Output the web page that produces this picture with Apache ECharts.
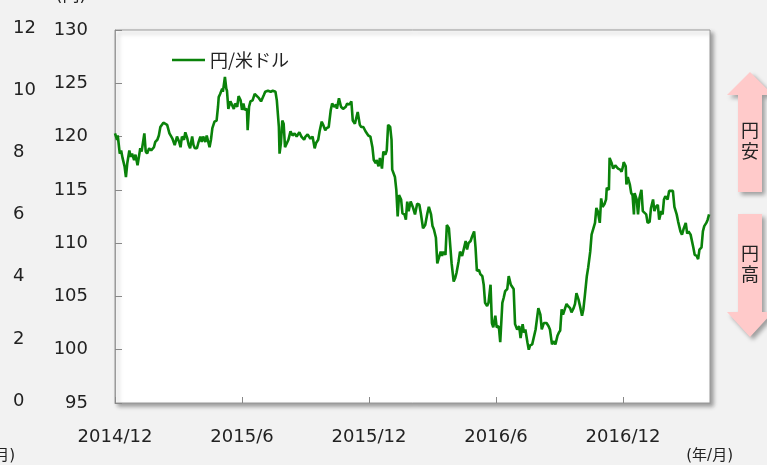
<!DOCTYPE html>
<html>
<head>
<meta charset="utf-8">
<script src="https://cdn.jsdelivr.net/npm/echarts@6/dist/echarts.min.js"></script>
<style>
html,body{margin:0;padding:0;background:#f2f2f2;}
#chart{width:767px;height:465px;}
</style>
</head>
<body>
<div id="chart"></div>
<script>
// ---- data ----
var seriesName = '円/米ドル';
var xTickLabels = ['2014/12', '2015/6', '2015/12', '2016/6', '2016/12'];
var leftTickLabels = ['0', '2', '4', '6', '8', '10', '12'];
var yUnit = '(円)';
var xUnit = '(年/月)';
var upLabel = '円\n安';
var downLabel = '円\n高';

var dates2014 = ['12-01','12-02','12-04','12-05','12-08','12-10','12-12','12-15','12-17','12-19','12-22','12-24','12-26','12-29','12-31'];
var values2014 = [120.3,120.4,119.7,120.1,118.4,118.7,118.0,117.2,116.2,117.5,118.7,118.1,118.4,117.8,118.3];

var dates2015 = ['01-03','01-05','01-07','01-09','01-13','01-15','01-17','01-20','01-23','01-27','01-29',
  '02-01','02-03','02-05','02-09','02-11','02-14','02-17','02-21','02-24','02-27',
  '03-02','03-04','03-06','03-09','03-11','03-14','03-16','03-18','03-21','03-23','03-25','03-28','03-30',
  '04-02','04-04','04-06','04-09','04-11','04-15','04-17','04-19','04-22','04-25','04-27','04-28','04-30',
  '05-03','05-04','05-07','05-09','05-10','05-12','05-15','05-17','05-20','05-22','05-25','05-27','05-30',
  '06-01','06-03','06-05','06-08','06-09','06-11','06-13','06-16','06-19','06-21','06-25','06-28',
  '07-02','07-04','07-05','07-08','07-12','07-15','07-19','07-21','07-24','07-25','07-27','07-29','07-31',
  '08-02','08-04','08-07','08-10','08-13','08-16','08-19','08-23','08-26','08-30',
  '09-01','09-04','09-08','09-11','09-14','09-16','09-19','09-21','09-24','09-26','09-29',
  '10-01','10-04','10-07','10-09','10-12','10-15','10-16','10-19','10-22','10-25','10-29','10-31',
  '11-03','11-06','11-08','11-11','11-13','11-15','11-18','11-20','11-23','11-26','11-30',
  '12-03','12-06','12-08','12-11','12-12','12-15','12-17','12-20','12-22','12-25','12-27','12-29'];
var values2015 = [117.3,117.3,118.9,118.6,120.3,118.6,118.4,118.9,118.7,119.0,119.5,
  119.7,120.1,120.9,121.3,121.4,121.1,120.3,119.8,119.2,120.0,
  119.5,119.0,120.0,119.7,120.4,119.8,119.2,118.9,120.0,119.2,118.9,118.9,119.4,
  120.0,119.5,120.0,119.5,120.1,119.0,119.7,120.8,121.4,121.5,122.8,123.7,124.0,
  124.5,124.2,125.6,124.5,124.3,122.6,123.3,123.3,122.6,123.1,122.8,123.8,123.4,
  122.5,123.1,122.5,122.6,120.6,122.8,123.3,123.4,124.0,124.0,123.6,123.3,
  123.9,124.2,124.1,124.3,124.2,124.3,124.2,123.4,120.9,118.4,119.4,121.5,121.2,
  119.0,119.0,119.7,120.5,120.1,120.3,120.0,120.4,120.0,119.7,
  120.0,120.2,119.8,120.0,118.9,119.4,119.7,120.5,121.4,121.1,120.6,
  120.8,120.9,122.5,123.1,122.8,123.0,122.6,123.6,122.8,122.6,122.8,123.1,
  123.0,123.3,121.5,121.2,121.1,122.3,121.1,120.9,120.9,120.5,120.1,
  120.0,119.0,117.8,117.5,117.8,117.2,118.0,117.0,118.6,118.3,118.7,121.1];

var dates2016 = ['01-01','01-03','01-04','01-08','01-10','01-12','01-14','01-17','01-19','01-22','01-24','01-26','01-28','01-31',
  '02-03','02-06','02-09','02-12','02-14','02-17','02-20','02-23','02-25','02-28',
  '03-01','03-03','03-06','03-08','03-10','03-13','03-15','03-17','03-20','03-22','03-25','03-27','03-29',
  '04-01','04-03','04-05','04-08','04-10','04-13','04-15','04-18','04-20','04-22','04-25','04-27','04-30',
  '05-02','05-04','05-07','05-09','05-12','05-14','05-16','05-19','05-21','05-24','05-26','05-28','05-31',
  '06-02','06-05','06-07','06-10','06-12','06-14','06-17','06-19','06-22','06-24','06-26','06-28',
  '07-01','07-04','07-06','07-09','07-11','07-13','07-16','07-18','07-20','07-23','07-25','07-28','07-30',
  '08-01','08-04','08-06','08-09','08-11','08-13','08-16','08-18','08-21','08-23','08-26','08-29','08-31',
  '09-02','09-04','09-06','09-09','09-11','09-13','09-16','09-18','09-21','09-23','09-25','09-28','09-30',
  '10-03','10-05','10-07','10-10','10-12','10-15','10-17','10-19','10-22','10-24','10-26','10-29','10-31',
  '11-02','11-05','11-07','11-08','11-11','11-12','11-15','11-17','11-20','11-22','11-24','11-27','11-29',
  '12-01','12-02','12-05','12-06','12-08','12-11','12-13','12-15','12-17','12-18','12-21','12-23','12-25','12-28','12-30'];
var values2016 = [120.9,119.7,116.9,116.2,115.0,112.5,114.5,114.1,112.8,112.7,112.2,113.9,113.0,113.9,
  113.4,112.7,113.7,113.6,112.8,111.4,111.7,112.8,113.4,112.7,
  111.6,111.3,110.5,108.1,108.0,109.2,108.8,109.2,108.9,111.7,111.4,111.3,108.1,
  106.4,106.7,107.2,108.3,109.2,108.8,108.9,110.2,109.4,110.0,110.2,110.6,111.1,
  109.6,107.4,107.5,107.1,106.9,106.1,104.4,104.1,104.4,106.1,102.5,102.1,103.2,
  102.1,102.2,100.7,104.4,104.9,105.5,105.7,106.9,106.1,106.0,105.7,102.4,
  101.9,102.2,101.1,102.4,101.6,101.9,100.7,100.0,100.4,100.5,100.5,101.9,102.9,
  103.9,103.3,101.9,102.5,102.4,102.5,102.2,101.9,100.5,100.8,100.5,101.3,101.6,
  101.8,103.8,103.3,103.9,104.3,104.1,103.9,103.5,103.9,104.3,105.3,104.7,104.1,
  103.2,103.8,105.0,106.9,107.7,109.2,110.8,110.8,111.9,113.3,113.0,111.9,114.2,
  113.4,113.7,114.1,115.2,115.0,118.0,117.5,117.0,117.3,117.2,117.0,116.9,116.7,
  117.2,117.6,117.2,115.5,116.2,115.5,114.7,114.5,112.7,114.7,114.1,112.7,114.2,115.0,113.0];

var dates2017 = ['01-01','01-04','01-06','01-09','01-11','01-14','01-16','01-18','01-21','01-23','01-26','01-28','01-30',
  '02-01','02-04','02-06','02-08','02-11','02-13','02-16','02-18','02-21','02-23','02-25','02-28',
  '03-02','03-04','03-07','03-09','03-11','03-13','03-16','03-18','03-20','03-23','03-25','03-27','03-30',
  '04-01','04-03'];
var values2017 = [113.1,112.7,111.9,112.0,113.3,114.1,113.0,113.4,113.6,112.2,113.0,112.7,114.1,
  114.4,114.1,114.9,114.9,114.9,113.4,112.7,112.0,111.1,110.8,111.3,111.9,
  110.9,111.1,110.8,110.9,109.6,108.9,108.8,108.5,109.4,109.6,111.1,111.6,111.9,
  112.2,112.7];

// ---- build ----
function daysIn(y, m) { return new Date(y, m, 0).getDate(); }
function monthPos(y, md) {
  var m = +md.slice(0, 2), d = +md.slice(3, 5);
  return (y - 2014) * 12 + (m - 12) + (d - 1) / daysIn(y, m);
}
var lineData = [];
[[2014, dates2014, values2014], [2015, dates2015, values2015], [2016, dates2016, values2016], [2017, dates2017, values2017]]
  .forEach(function (g) {
    g[1].forEach(function (md, i) { lineData.push([monthPos(g[0], md), g[2][i]]); });
  });

var FONT = '"DejaVu Sans", "Noto Sans CJK JP", sans-serif';
var JP = '"Noto Sans CJK JP", sans-serif';
var chart = echarts.init(document.getElementById('chart'), null, { renderer: 'canvas' });

var upArrow = [[750, 72], [773, 95], [762, 95], [762, 192], [738, 192], [738, 95], [727, 95]];
var downArrow = [[738, 214], [762, 214], [762, 312], [773, 312], [750, 337], [727, 312], [738, 312]];
var arrowStyle = { fill: '#ffcaca', shadowBlur: 4, shadowOffsetX: 3, shadowOffsetY: 3, shadowColor: 'rgba(0,0,0,0.35)' };

chart.setOption({
  backgroundColor: '#f2f2f2',
  animation: false,
  textStyle: { fontFamily: FONT },
  grid: [
    { left: 115, top: 30, width: 595, height: 373, show: true, backgroundColor: '#ffffff',
      borderColor: '#9a9a9a', borderWidth: 1, shadowColor: 'rgba(0,0,0,0.35)', shadowBlur: 4,
      shadowOffsetX: 3, shadowOffsetY: 3, outerBoundsMode: 'none' },
    { left: 40, top: 28, width: 10, height: 373, show: false, outerBoundsMode: 'none' }
  ],
  legend: {
    left: 172, top: 51, padding: 0, icon: 'rect', itemWidth: 33, itemHeight: 2.5,
    data: [seriesName],
    textStyle: { fontFamily: JP, fontSize: 18, color: '#222' }
  },
  xAxis: [
    { type: 'value', gridIndex: 0, min: 0, max: 28.11, interval: 6,
      splitLine: { show: false },
      axisLine: { show: true, lineStyle: { color: '#9a9a9a' } },
      axisTick: { show: true, inside: true, length: 6, lineStyle: { color: '#888' } },
      axisLabel: { show: true, showMaxLabel: false, margin: 25, fontSize: 18, color: '#222', fontFamily: FONT,
        formatter: function (v) { var k = Math.round(v / 6); return xTickLabels[k] || ''; } } },
    { type: 'value', gridIndex: 1, show: false, min: 0, max: 1 }
  ],
  yAxis: [
    { type: 'value', gridIndex: 0, min: 95, max: 130, interval: 5,
      splitLine: { show: false },
      axisLine: { show: true, lineStyle: { color: '#9a9a9a' } },
      axisTick: { show: true, inside: true, length: 7, lineStyle: { color: '#888' } },
      axisLabel: { margin: 27, fontSize: 18, color: '#222', fontFamily: FONT } },
    { type: 'value', gridIndex: 1, min: 0, max: 12, interval: 2,
      splitLine: { show: false }, axisLine: { show: false }, axisTick: { show: false },
      axisLabel: { margin: 27, align: 'left', fontSize: 18, color: '#222', fontFamily: FONT,
        formatter: function (v) { return leftTickLabels[Math.round(v / 2)]; } } }
  ],
  series: [{
    name: seriesName, type: 'line', xAxisIndex: 0, yAxisIndex: 0,
    data: lineData, showSymbol: false, symbol: 'none',
    lineStyle: { color: '#0a820a', width: 2.6 }, itemStyle: { color: '#0a820a' }
  }],
  graphic: [
    { type: 'polygon', shape: { points: upArrow }, style: arrowStyle, silent: true },
    { type: 'polygon', shape: { points: downArrow }, style: arrowStyle, silent: true },
    { type: 'text', x: 750, y: 141, style: { text: upLabel, fontSize: 18, lineHeight: 21, fontFamily: JP, fill: '#222', align: 'center', verticalAlign: 'middle' } },
    { type: 'text', x: 750, y: 264, style: { text: downLabel, fontSize: 18, lineHeight: 21, fontFamily: JP, fill: '#222', align: 'center', verticalAlign: 'middle' } },
    { type: 'text', x: 71, y: -3, style: { text: yUnit, fontSize: 17, fontFamily: FONT, fill: '#222', align: 'center', verticalAlign: 'middle' } },
    { type: 'text', x: 733, y: 456, style: { text: xUnit, fontSize: 15, fontFamily: FONT, fill: '#222', align: 'right', verticalAlign: 'middle' } },
    { type: 'text', x: 15, y: 456, style: { text: xUnit, fontSize: 15, fontFamily: FONT, fill: '#222', align: 'right', verticalAlign: 'middle' } }
  ]
});
</script>
</body>
</html>
